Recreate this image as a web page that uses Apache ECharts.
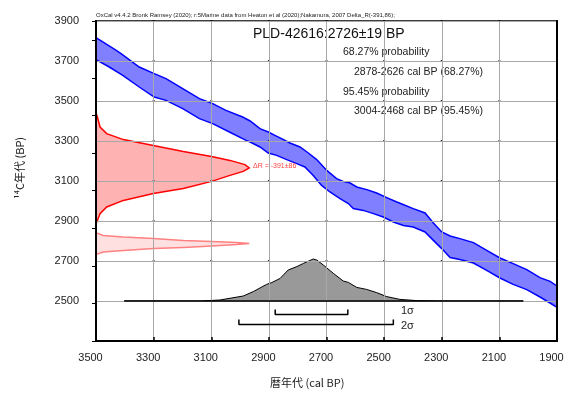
<!DOCTYPE html>
<html>
<head>
<meta charset="utf-8">
<script src="https://cdn.jsdelivr.net/npm/echarts@6/dist/echarts.min.js"></script>
<style>
html, body { margin: 0; padding: 0; background: #fff; }
#chart { width: 571px; height: 396px; }
</style>
</head>
<body>
<div id="chart"></div>
<script>
// 較正曲線 (Marine20 + ΔR) 上端 [cal BP, 14C BP]
var bandUpper = [[3500, 3817], [3431, 3754], [3413, 3737], [3350, 3670], [3298, 3637], [3257, 3612],
	[3199, 3562], [3141, 3512], [3095, 3487], [3049, 3453], [2991, 3420], [2965, 3400], [2931, 3362],
	[2902, 3345], [2879, 3328], [2856, 3312], [2827, 3290], [2792, 3270], [2763, 3240], [2734, 3207],
	[2699, 3153], [2665, 3112], [2642, 3098], [2618, 3090], [2595, 3070], [2560, 3057], [2526, 3040],
	[2491, 3017], [2456, 2995], [2430, 2980], [2399, 2962], [2358, 2940], [2329, 2890], [2300, 2845],
	[2271, 2825], [2237, 2812], [2190, 2792], [2144, 2753], [2098, 2715], [2052, 2687], [2005, 2657],
	[1959, 2617], [1924, 2598], [1900, 2575]];

// 較正曲線 下端
var bandLower = [[3500, 3707], [3454, 3670], [3407, 3628], [3350, 3570], [3298, 3520], [3257, 3503],
	[3199, 3462], [3141, 3412], [3095, 3387], [3037, 3345], [2979, 3303], [2965, 3295], [2931, 3270],
	[2902, 3240], [2873, 3228], [2838, 3207], [2803, 3187], [2775, 3170], [2746, 3128], [2717, 3078],
	[2688, 3045], [2653, 3012], [2624, 2987], [2607, 2962], [2572, 2953], [2537, 2937], [2503, 2920],
	[2468, 2895], [2433, 2878], [2399, 2870], [2358, 2845], [2329, 2803], [2300, 2762], [2271, 2717],
	[2237, 2707], [2190, 2690], [2144, 2653], [2098, 2615], [2052, 2583], [2005, 2557], [1959, 2520],
	[1924, 2490], [1900, 2468]];

// 14C年代の分布 (赤)
var redDist = [[3500, 3440], [3495, 3420], [3486, 3370], [3463, 3337], [3405, 3307], [3301, 3278],
	[3197, 3248], [3099, 3223], [3035, 3203], [2983, 3182], [2968, 3165], [2989, 3148], [3035, 3128],
	[3099, 3098], [3197, 3062], [3301, 3037], [3405, 3003], [3463, 2970], [3486, 2937], [3495, 2903],
	[3500, 2885]];

// 測定値の分布 (薄い赤)
var pinkDist = [[3500, 2845], [3498, 2840], [3475, 2828], [3405, 2820], [3301, 2812], [3197, 2803],
	[3099, 2798], [3012, 2792], [2968, 2787], [3012, 2782], [3099, 2775], [3197, 2768], [3301, 2762],
	[3405, 2753], [3475, 2745], [3498, 2733], [3500, 2728]];

// 暦年代の確率分布 (灰色)
var grayCal = [3402, 3139, 3070, 2989, 2954, 2908, 2890, 2861, 2833, 2803, 2780, 2746, 2734, 2711,
	2676, 2642, 2624, 2595, 2561, 2526, 2491, 2445, 2387, 2307, 2017];
var grayC14 = [2500, 2500, 2505, 2525, 2547, 2583, 2592, 2613, 2655, 2672, 2688, 2710, 2705, 2680,
	2638, 2600, 2593, 2568, 2558, 2542, 2522, 2508, 2502, 2500, 2500];

// 1σ, 2σ 範囲
var sigma1 = [2878, 2626];
var sigma2 = [3004, 2468];

var calTicks = [3500, 3300, 3100, 2900, 2700, 2500, 2300, 2100, 1900];
var c14Ticks = [2500, 2700, 2900, 3100, 3300, 3500, 3700, 3900];

var jp = '"Noto Sans CJK JP", "Liberation Sans", sans-serif';
var latin = '"Liberation Sans", "Noto Sans", sans-serif';

function shape(points, lines, fill, stroke, lw, z) {
	return {
		type: 'custom',
		xAxisIndex: 0,
		yAxisIndex: 0,
		silent: true,
		z: z,
		data: [points[0]],
		renderItem: function (params, api) {
			var children = [{
				type: 'polygon',
				shape: { points: points.map(function (p) { return api.coord(p); }) },
				style: { fill: fill, stroke: null }
			}];
			for (var i = 0; i < lines.length; i++) {
				children.push({
					type: 'polyline',
					shape: { points: lines[i].map(function (p) { return api.coord(p); }) },
					style: { fill: null, stroke: stroke, lineWidth: lw }
				});
			}
			return { type: 'group', children: children };
		}
	};
}

var grayPts = [];
for (var i = 0; i < grayCal.length; i++) {
	grayPts.push([grayCal[i], grayC14[i]]);
}

var bandPoly = bandUpper.concat(bandLower.slice().reverse());

// 格子線の交点と格子線
var gridDots = [];
for (var i = 0; i < calTicks.length; i++) {
	for (var j = 0; j < c14Ticks.length; j++) {
		gridDots.push([calTicks[i], c14Ticks[j]]);
	}
}
var gridLines = [];
for (var i = 0; i < calTicks.length; i++) {
	gridLines.push({ xAxis: calTicks[i] });
}
for (var j = 0; j < c14Ticks.length; j++) {
	gridLines.push({ yAxis: c14Ticks[j] });
}

function bracket(range, y0, y1) {
	return {
		type: 'line',
		xAxisIndex: 0,
		yAxisIndex: 0,
		silent: true,
		symbol: 'none',
		z: 5,
		lineStyle: { color: '#000', width: 1.5 },
		data: [[range[0], y1], [range[0], y0], [range[1], y0], [range[1], y1]]
	};
}

function plain(v) {
	return String(v);
}

var myChart = echarts.init(document.getElementById('chart'));

myChart.setOption({
	animation: false,
	grid: {
		left: 96, right: 14, top: 21, bottom: 55,
		show: false
	},
	xAxis: [{
		type: 'value',
		inverse: true,
		z: 10,
		min: 1900, max: 3500, interval: 200,
		axisLine: { lineStyle: { color: '#000', width: 2 } },
		axisTick: { show: true, inside: true, length: 4, lineStyle: { color: '#000', width: 1.5 } },
		axisLabel: { color: '#222', fontSize: 11, fontFamily: latin, margin: 11, padding: [0, 11, 0, 0], formatter: plain },
		splitLine: { show: false }
	}, {
		// 上枠
		type: 'value',
		position: 'top',
		min: 0, max: 1,
		axisLine: { show: true, onZero: false, lineStyle: { color: '#000', width: 1.5 } },
		axisTick: { show: false },
		axisLabel: { show: false },
		splitLine: { show: false }
	}],
	yAxis: [{
		type: 'value',
		z: 10,
		min: 2300, max: 3900, interval: 200,
		axisLine: { lineStyle: { color: '#000', width: 2 } },
		axisTick: { show: false },
		axisLabel: { color: '#222', fontSize: 11, fontFamily: latin, margin: 17, showMinLabel: false, formatter: plain },
		splitLine: { show: false }
	}, {
		// 左端の補助目盛
		type: 'value',
		position: 'right',
		offset: -461,
		z: 10,
		min: 0, max: 8.51, interval: 1,
		axisLine: { show: false },
		axisTick: { show: true, inside: true, length: 4, lineStyle: { color: '#000', width: 1 } },
		axisLabel: { show: false },
		splitLine: { show: false }
	}, {
		// 右枠
		type: 'value',
		position: 'right',
		z: 10,
		min: 0, max: 1,
		axisLine: { show: true, onZero: false, lineStyle: { color: '#000', width: 2 } },
		axisTick: { show: false },
		axisLabel: { show: false },
		splitLine: { show: false }
	}],
	graphic: [
		{ type: 'text', left: 96, top: 12, style: { text: 'OxCal v4.4.2 Bronk Ramsey (2020); r:5Marine data from Heaton et al (2020);Nakamura, 2007 Delta_R(-391,86);', fontSize: 6, fontFamily: latin, fill: '#222' } },
		{ type: 'text', left: 253, top: 27, style: { text: 'PLD-42616:2726±19 BP', fontSize: 14, fontFamily: latin, fill: '#111' } },
		{ type: 'text', left: 343, top: 47, style: { text: '68.27% probability', fontSize: 10.5, fontFamily: latin, fill: '#222' } },
		{ type: 'text', left: 354, top: 67, style: { text: '2878-2626 cal BP (68.27%)', fontSize: 10.5, fontFamily: latin, fill: '#222' } },
		{ type: 'text', left: 343, top: 87, style: { text: '95.45% probability', fontSize: 10.5, fontFamily: latin, fill: '#222' } },
		{ type: 'text', left: 354, top: 106, style: { text: '3004-2468 cal BP (95.45%)', fontSize: 10.5, fontFamily: latin, fill: '#222' } },
		{ type: 'text', left: 253, top: 163, z: 10, style: { text: 'ΔR = -391±86', fontSize: 7, fontFamily: latin, fill: '#ff4040' } },
		{ type: 'text', left: 401, top: 305, style: { text: '1σ', fontSize: 11, fontFamily: latin, fill: '#222' } },
		{ type: 'text', left: 401, top: 320, style: { text: '2σ', fontSize: 11, fontFamily: latin, fill: '#222' } },
		{ type: 'text', x: 20, y: 168, rotation: Math.PI / 2, style: { text: '¹⁴C年代 (BP)', fontSize: 11, fontFamily: jp, fill: '#222', align: 'center', verticalAlign: 'middle' } },
		{ type: 'text', left: 270, top: 377, style: { text: '暦年代 (cal BP)', fontSize: 11, fontFamily: jp, fill: '#222' } }
	],
	series: [
		{
			type: 'scatter',
			xAxisIndex: 0,
			yAxisIndex: 0,
			silent: true,
			symbol: 'rect',
			symbolSize: 2,
			itemStyle: { color: '#000' },
			z: 1,
			data: gridDots,
			markLine: {
				silent: true,
				symbol: 'none',
				label: { show: false },
				lineStyle: { color: '#a8a8a8', width: 1, type: 'solid' },
				emphasis: { disabled: true },
				data: gridLines
			}
		},
		shape(bandPoly, [bandUpper, bandLower], 'rgba(0,0,255,0.5)', '#0000ff', 1.5, 3),
		shape(redDist, [redDist], 'rgba(255,0,0,0.3)', '#ff0000', 1.5, 3),
		shape(pinkDist, [pinkDist], 'rgba(255,0,0,0.12)', '#ff8080', 1.5, 3),
		shape(grayPts, [grayPts], '#999999', '#000', 1, 3),
		{
			type: 'line',
			xAxisIndex: 0,
			yAxisIndex: 0,
			silent: true,
			symbol: 'none',
			z: 5,
			lineStyle: { color: '#000', width: 1.5 },
			data: [[grayCal[0], 2500], [grayCal[grayCal.length - 1], 2500]]
		},
		bracket(sigma1, 2432, 2457),
		bracket(sigma2, 2382, 2407)
	]
});
</script>
</body>
</html>
